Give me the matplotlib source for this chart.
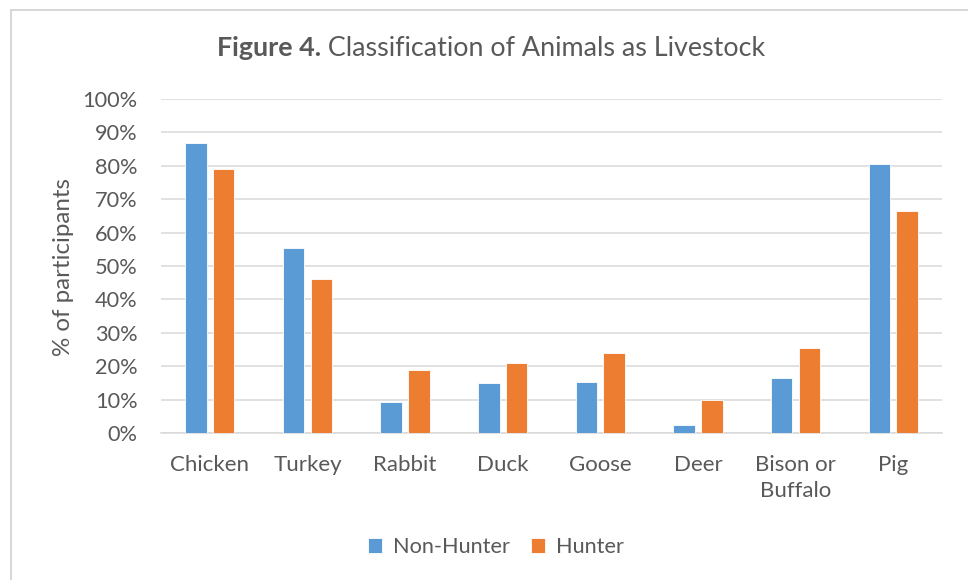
import matplotlib
matplotlib.use("Agg")
import matplotlib.pyplot as plt
from matplotlib.patches import Rectangle
from matplotlib.ticker import FuncFormatter

categories = ["Chicken", "Turkey", "Rabbit", "Duck", "Goose", "Deer", "Bison or\nBuffalo", "Pig"]
non_hunter = [86.8, 55.5, 9.3, 14.9, 15.3, 2.4, 16.5, 80.6]
hunter = [79.1, 46.2, 18.9, 20.9, 24.0, 9.8, 25.3, 66.4]
series_names = ["Non-Hunter", "Hunter"]
yticks = [0, 10, 20, 30, 40, 50, 60, 70, 80, 90, 100]

BLUE = "#5B9BD5"
ORANGE = "#ED7D31"
TXT = "#595959"
GRID = "#D9D9D9"
FONT = "Lato"

W, H = 968, 580
fig = plt.figure(figsize=(W / 100, H / 100), dpi=100)
fig.patch.set_facecolor("white")

# chart border (extends past the image on right/bottom)
fig.patches.append(Rectangle((11 / W, -0.1), 1.2, 1 - 10 / H + 0.1, transform=fig.transFigure,
                             fill=False, edgecolor="#D0D0D0", linewidth=1.2))

ax = fig.add_axes([161 / W, (H - 433) / H, (942 - 161) / W, (433 - 99) / H])
n = len(categories)
x = list(range(n))
bw = 0.22
gap = 0.065
off = (bw + gap) / 2
ax.bar([i - off for i in x], non_hunter, width=bw, color=BLUE, edgecolor="white",
       linewidth=0.6, label=series_names[0], zorder=3)
ax.bar([i + off for i in x], hunter, width=bw, color=ORANGE, edgecolor="white",
       linewidth=0.6, label=series_names[1], zorder=3)

ax.set_xlim(-0.5, n - 0.5)
ax.set_ylim(0, 100)
ax.set_yticks(yticks)
ax.yaxis.set_major_formatter(FuncFormatter(lambda v, p: f"{int(v)}%"))
ax.grid(axis="y", color=GRID, linewidth=1.1, zorder=0)
for s in ["top", "right", "left"]:
    ax.spines[s].set_visible(False)
ax.spines["bottom"].set_color(GRID)
ax.spines["bottom"].set_linewidth(1.1)
ax.tick_params(axis="both", length=0, labelsize=15.7, labelcolor=TXT)
ax.tick_params(axis="x", labelsize=16)
ax.tick_params(axis="y", pad=17)
ax.tick_params(axis="x", pad=16)
ax.set_xticks(x)
ax.set_xticklabels(categories, fontfamily=FONT, linespacing=1.38, va="top")
for lab in ax.get_yticklabels():
    lab.set_fontfamily(FONT)

fig.text(63 / W, 1 - 267 / H, "% of participants", rotation=90, ha="center", va="center",
         fontsize=17.4, color=TXT, fontfamily=FONT)

# title with bold prefix
ty = 1 - 48 / H
tsize = 19.4
t1 = fig.text(0.5, ty, "Figure 4.", ha="right", va="center", fontsize=tsize,
              fontweight="bold", color=TXT, fontfamily=FONT)
fig.canvas.draw()
r = fig.canvas.get_renderer()
bb = t1.get_window_extent(r)
t2 = fig.text(0.5, ty, " Classification of Animals as Livestock", ha="left", va="center",
              fontsize=tsize, color=TXT, fontfamily=FONT)
bb2 = t2.get_window_extent(r)
total = bb.width + bb2.width
center = 491
left = center - total / 2
t1.set_position(((left + bb.width) / W, ty))
t2.set_position(((left + bb.width) / W, ty))

leg = fig.legend(loc="center", bbox_to_anchor=(496 / W, 1 - 547 / H), ncol=2, frameon=False,
                 prop={"family": FONT, "size": 15.6}, labelcolor=TXT, handlelength=0.65,
                 handleheight=0.65, handletextpad=0.5, columnspacing=1.0)

fig.savefig("out.png", dpi=100, facecolor="white")
